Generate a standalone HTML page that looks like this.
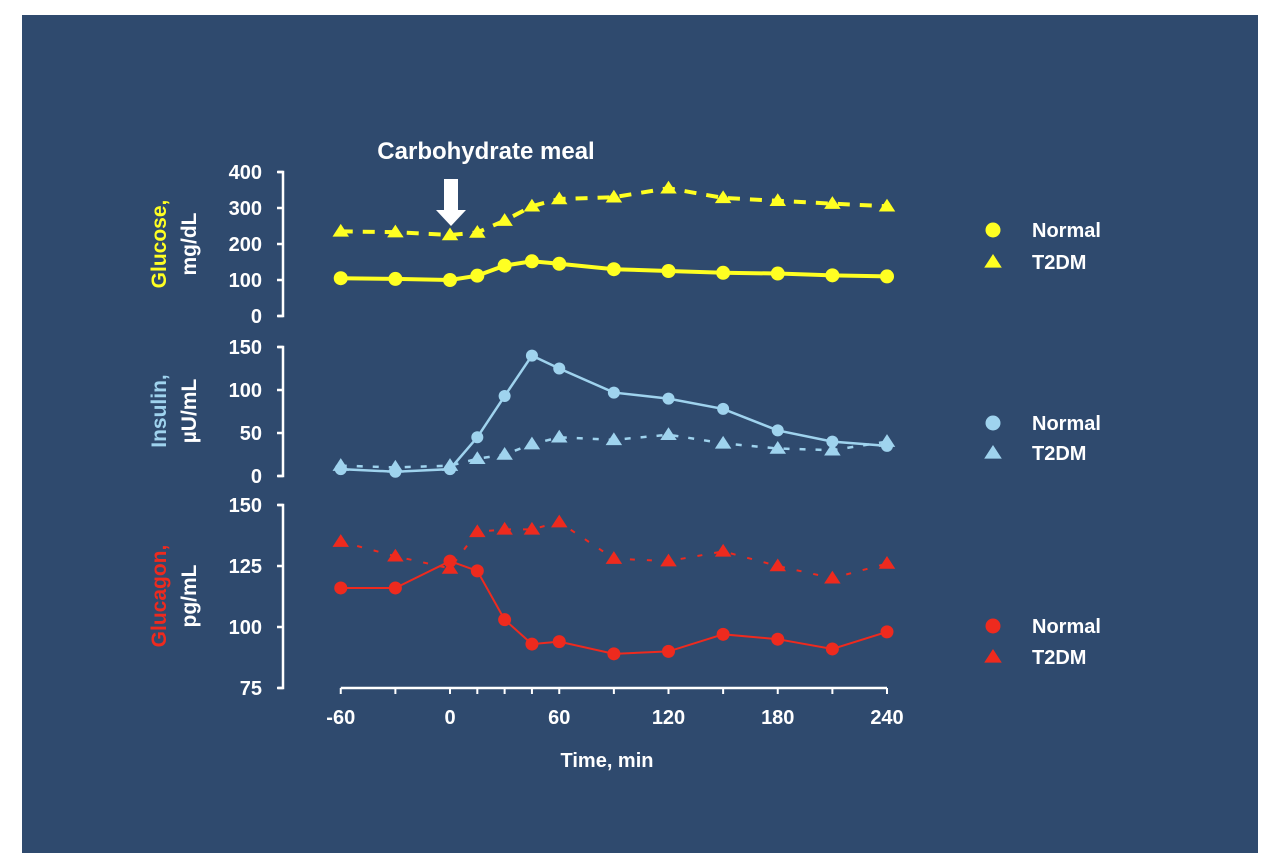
<!DOCTYPE html>
<html><head><meta charset="utf-8"><style>
html,body{margin:0;padding:0;background:#fff;}
svg{display:block;font-family:"Liberation Sans",sans-serif;font-weight:bold;}
</style></head><body>
<svg id="chart" width="1280" height="867">
<rect x="22" y="15" width="1236" height="838" fill="#2f4a6e"/>
<g id="g"></g>
</svg>
<script>
const times=[-60,-30,0,15,30,45,60,90,120,150,180,210,240];
const glucoseNormal=[105,103,100,112,140,152,145,130,125,120,118,113,110];
const glucoseT2DM=[235,233,225,232,265,305,325,330,355,328,320,312,305];
const insulinNormal=[8,5,8,45,93,140,125,97,90,78,53,40,35];
const insulinT2DM=[12,10,12,20,25,37,45,42,48,38,32,30,40];
const glucagonNormal=[116,116,127,123,103,93,94,89,90,97,95,91,98];
const glucagonT2DM=[135,129,124,139,140,140,143,128,127,131,125,120,126];
const xTicks=[-60,0,60,120,180,240];
const glucoseTicks=[0,100,200,300,400];
const insulinTicks=[0,50,100,150];
const glucagonTicks=[75,100,125,150];

const NS="http://www.w3.org/2000/svg";
const g=document.getElementById('g');
function mk(t,a,txt){const e=document.createElementNS(NS,t);for(const k in a)e.setAttribute(k,a[k]);if(txt!==undefined)e.textContent=txt;g.appendChild(e);return e;}
const X=v=>450+(v)*(887-450)/240;
function lin(d0,d1,p0,p1){return v=>p0+(v-d0)*(p1-p0)/(d1-d0);}
const panels=[
 {name:'glucose',ticks:glucoseTicks,y:lin(0,400,316,172),col:'#ffff22',n:glucoseNormal,t:glucoseT2DM,l1:'Glucose,',l2:'mg/dL',ly:[230,262],labY:244,dash:'12,10',sw:4,r:7},
 {name:'insulin',ticks:insulinTicks,y:lin(0,150,476,347),col:'#9fd3ee',n:insulinNormal,t:insulinT2DM,l1:'Insulin,',l2:'µU/mL',ly:[423,453],labY:411,dash:'6,10',sw:2.5,r:6},
 {name:'glucagon',ticks:glucagonTicks,y:lin(75,150,688,505),col:'#ee2a1e',n:glucagonNormal,t:glucagonT2DM,l1:'Glucagon,',l2:'pg/mL',ly:[626,657],labY:596,dash:'5,12',sw:2,r:6.5}
];
panels.forEach(p=>{
 const top=p.y(p.ticks[p.ticks.length-1]),bot=p.y(p.ticks[0]);
 let e=mk('path',{d:`M278 ${top}H283V${bot}H278`,stroke:'#fff','stroke-width':2.5,fill:'none'});
 
 p.ticks.forEach(t=>{
  e=mk('line',{x1:277,x2:283,y1:p.y(t),y2:p.y(t),stroke:'#fff','stroke-width':2.5});
  
  e=mk('text',{x:262,y:p.y(t)+7,fill:'#fff','font-size':20,'text-anchor':'end'},t);
  
 });
 e=mk('text',{x:0,y:0,fill:p.col,'font-size':21,'text-anchor':'middle',transform:`translate(166 ${p.labY}) rotate(-90)`},p.l1);
 
 e=mk('text',{x:0,y:0,fill:'#fff','font-size':21,'text-anchor':'middle',transform:`translate(196 ${p.labY}) rotate(-90)`},p.l2);
 
 const tri=(cx,cy,s)=>`M${cx} ${cy-s}L${cx+s*1.1} ${cy+s*0.7}L${cx-s*1.1} ${cy+s*0.7}Z`;
 e=mk('polyline',{points:p.t.map((v,i)=>X(times[i])+','+p.y(v)).join(' '),stroke:p.col,'stroke-width':p.sw,'stroke-dasharray':p.dash,fill:'none'});
 
 p.t.forEach((v,i)=>{e=mk('path',{d:tri(X(times[i]),p.y(v),7.5),fill:p.col});
  });
 e=mk('polyline',{points:p.n.map((v,i)=>X(times[i])+','+p.y(v)).join(' '),stroke:p.col,'stroke-width':p.sw,fill:'none'});
 
 p.n.forEach((v,i)=>{e=mk('circle',{cx:X(times[i]),cy:p.y(v),r:p.r,fill:p.col});
  });
 e=mk('circle',{cx:993,cy:p.ly[0],r:7.5,fill:p.col});
 
 e=mk('text',{x:1032,y:p.ly[0]+7,fill:'#fff','font-size':20},'Normal');
 
 e=mk('path',{d:tri(993,p.ly[1],8),fill:p.col});
 
 e=mk('text',{x:1032,y:p.ly[1]+7,fill:'#fff','font-size':20},'T2DM');
 
});
let e=mk('line',{x1:X(-60),x2:X(240),y1:688,y2:688,stroke:'#fff','stroke-width':2.5});

times.forEach(t=>{e=mk('line',{x1:X(t),x2:X(t),y1:688,y2:694,stroke:'#fff','stroke-width':2});
 });
xTicks.forEach(t=>{e=mk('text',{x:X(t),y:724,fill:'#fff','font-size':20,'text-anchor':'middle'},t);
 });
e=mk('text',{x:607,y:767,fill:'#fff','font-size':20,'text-anchor':'middle'},'Time, min');

e=mk('text',{x:486,y:159,fill:'#fff','font-size':24,'text-anchor':'middle'},'Carbohydrate meal');

e=mk('path',{d:'M451 226L436 210H444V179H458V210H466Z',fill:'#fff'});

</script>
</body></html>
